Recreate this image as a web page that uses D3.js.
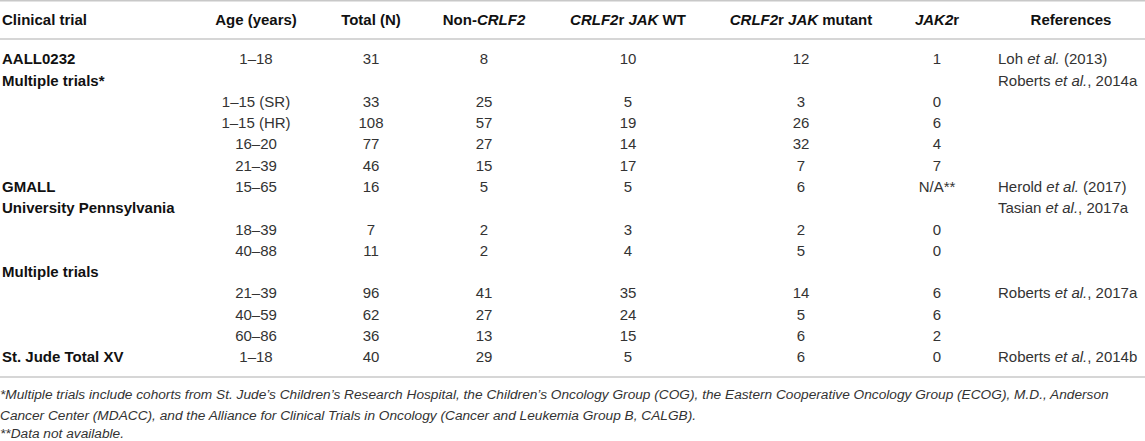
<!DOCTYPE html>
<html lang="en">
<head>
    <meta charset="UTF-8">
    <title>CRLF2 / JAK alterations by clinical trial</title>
    <script src="https://cdn.jsdelivr.net/npm/d3@7"></script>
    <style>
        body{ margin: 0; background: #fff; }
        svg{ display: block; font-family: "Liberation Sans", Arial, Helvetica, sans-serif; }
        .head{ font-size: 15px; font-weight: bold; fill: #111; }
        .trial{ font-size: 15px; font-weight: bold; fill: #111; }
        .cell{ font-size: 15px; fill: #333; }
        .note{ font-size: 13.7px; font-style: italic; fill: #333; }
        .rule{ stroke: #c8c8c8; stroke-width: 1.5px; }
    </style>
</head>
<body>
<svg id="svg_main"></svg>
<script>
    const width = 1145;
    const height = 441;

    // table contents, one entry per row
    const trials = ["AALL0232", "Multiple trials*", "", "", "", "", "GMALL", "University Pennsylvania",
        "", "", "Multiple trials", "", "", "", "St. Jude Total XV"];
    const ages = ["1–18", "", "1–15 (SR)", "1–15 (HR)", "16–20", "21–39", "15–65", "",
        "18–39", "40–88", "", "21–39", "40–59", "60–86", "1–18"];
    const totals = [31, null, 33, 108, 77, 46, 16, null, 7, 11, null, 96, 62, 36, 40];
    const nonCrlf2 = [8, null, 25, 57, 27, 15, 5, null, 2, 2, null, 41, 27, 13, 29];
    const jakWT = [10, null, 5, 19, 14, 17, 5, null, 3, 4, null, 35, 24, 15, 5];
    const jakMutant = [12, null, 3, 26, 32, 7, 6, null, 2, 5, null, 14, 5, 6, 6];
    const jak2r = [1, null, 0, 6, 4, 7, "N/A**", null, 0, 0, null, 6, 6, 2, 0];
    // references: [author, year part]  (et al. is set in italics between them)
    const refs = [["Loh", " (2013)"], ["Roberts", ", 2014a"], null, null, null, null,
        ["Herold", " (2017)"], ["Tasian", ", 2017a"], null, null, null,
        ["Roberts", ", 2017a"], null, null, ["Roberts", ", 2014b"]];

    // header labels as [text, italic] pieces
    const headers = [
        {key: "trial", parts: [["Clinical trial", false]]},
        {key: "age", parts: [["Age (years)", false]]},
        {key: "total", parts: [["Total (N)", false]]},
        {key: "non", parts: [["Non-", false], ["CRLF2", true]]},
        {key: "wt", parts: [["CRLF2", true], ["r ", false], ["JAK", true], [" WT", false]]},
        {key: "mut", parts: [["CRLF2", true], ["r ", false], ["JAK", true], [" mutant", false]]},
        {key: "jak2", parts: [["JAK2", true], ["r", false]]},
        {key: "ref", parts: [["References", false]]}
    ];

    const footnotes = [
        "*Multiple trials include cohorts from St. Jude’s Children’s Research Hospital, the Children’s Oncology Group (COG), the Eastern Cooperative Oncology Group (ECOG), M.D., Anderson",
        "Cancer Center (MDACC), and the Alliance for Clinical Trials in Oncology (Cancer and Leukemia Group B, CALGB).",
        "**Data not available."
    ];

    let svg = d3.select('#svg_main').attr('width', width).attr('height', height);

    // column anchors
    let xCol = d3.scaleOrdinal()
        .domain(["trial", "age", "total", "non", "wt", "mut", "jak2", "ref"])
        .range([2, 256, 371, 484, 628, 801, 937, 1071]);
    const refLeft = 998;

    // row bands
    let yRow = d3.scaleBand()
        .domain(d3.range(trials.length))
        .range([48.3, 367.7]);
    let rowMid = i => yRow(i) + yRow.bandwidth() / 2;

    // horizontal rules
    let rules = svg.append('g');
    [0.75, 39, 377].forEach(y => {
        rules.append('line').attr('class', 'rule')
            .attr('x1', 0).attr('x2', width).attr('y1', y).attr('y2', y);
    });

    // header
    let head = svg.append('g');
    headers.forEach(h => {
        let t = head.append('text').attr('class', 'head')
            .attr('x', xCol(h.key)).attr('y', 24.5)
            .attr('text-anchor', h.key === "trial" ? "start" : "middle");
        h.parts.forEach(p => {
            t.append('tspan').text(p[0]).style('font-style', p[1] ? 'italic' : 'normal');
        });
    });

    // body
    let body = svg.append('g');
    body.selectAll('.trial').data(trials).enter()
        .append('text').attr('class', 'trial')
        .attr('x', xCol("trial")).attr('y', (d, i) => rowMid(i) + 5.3)
        .text(d => d);

    const numCols = [["age", ages], ["total", totals], ["non", nonCrlf2],
        ["wt", jakWT], ["mut", jakMutant], ["jak2", jak2r]];
    numCols.forEach(([key, values]) => {
        body.append('g').selectAll('text').data(values).enter()
            .append('text').attr('class', 'cell')
            .attr('text-anchor', 'middle')
            .attr('x', xCol(key)).attr('y', (d, i) => rowMid(i) + 5.3)
            .text(d => d === null ? "" : d);
    });

    let refText = body.append('g').selectAll('text')
        .data(refs.map((r, i) => ({r: r, i: i})).filter(d => d.r))
        .enter().append('text').attr('class', 'cell')
        .attr('x', refLeft).attr('y', d => rowMid(d.i) + 5.3);
    refText.append('tspan').text(d => d.r[0] + " ");
    refText.append('tspan').style('font-style', 'italic').text("et al.");
    refText.append('tspan').text(d => d.r[1]);

    // footnotes
    svg.append('g').selectAll('text').data(footnotes).enter()
        .append('text').attr('class', 'note')
        .attr('x', 0)
        .attr('y', (d, i) => [398.5, 420, 437.5][i])
        .text(d => d);
</script>
</body>
</html>
